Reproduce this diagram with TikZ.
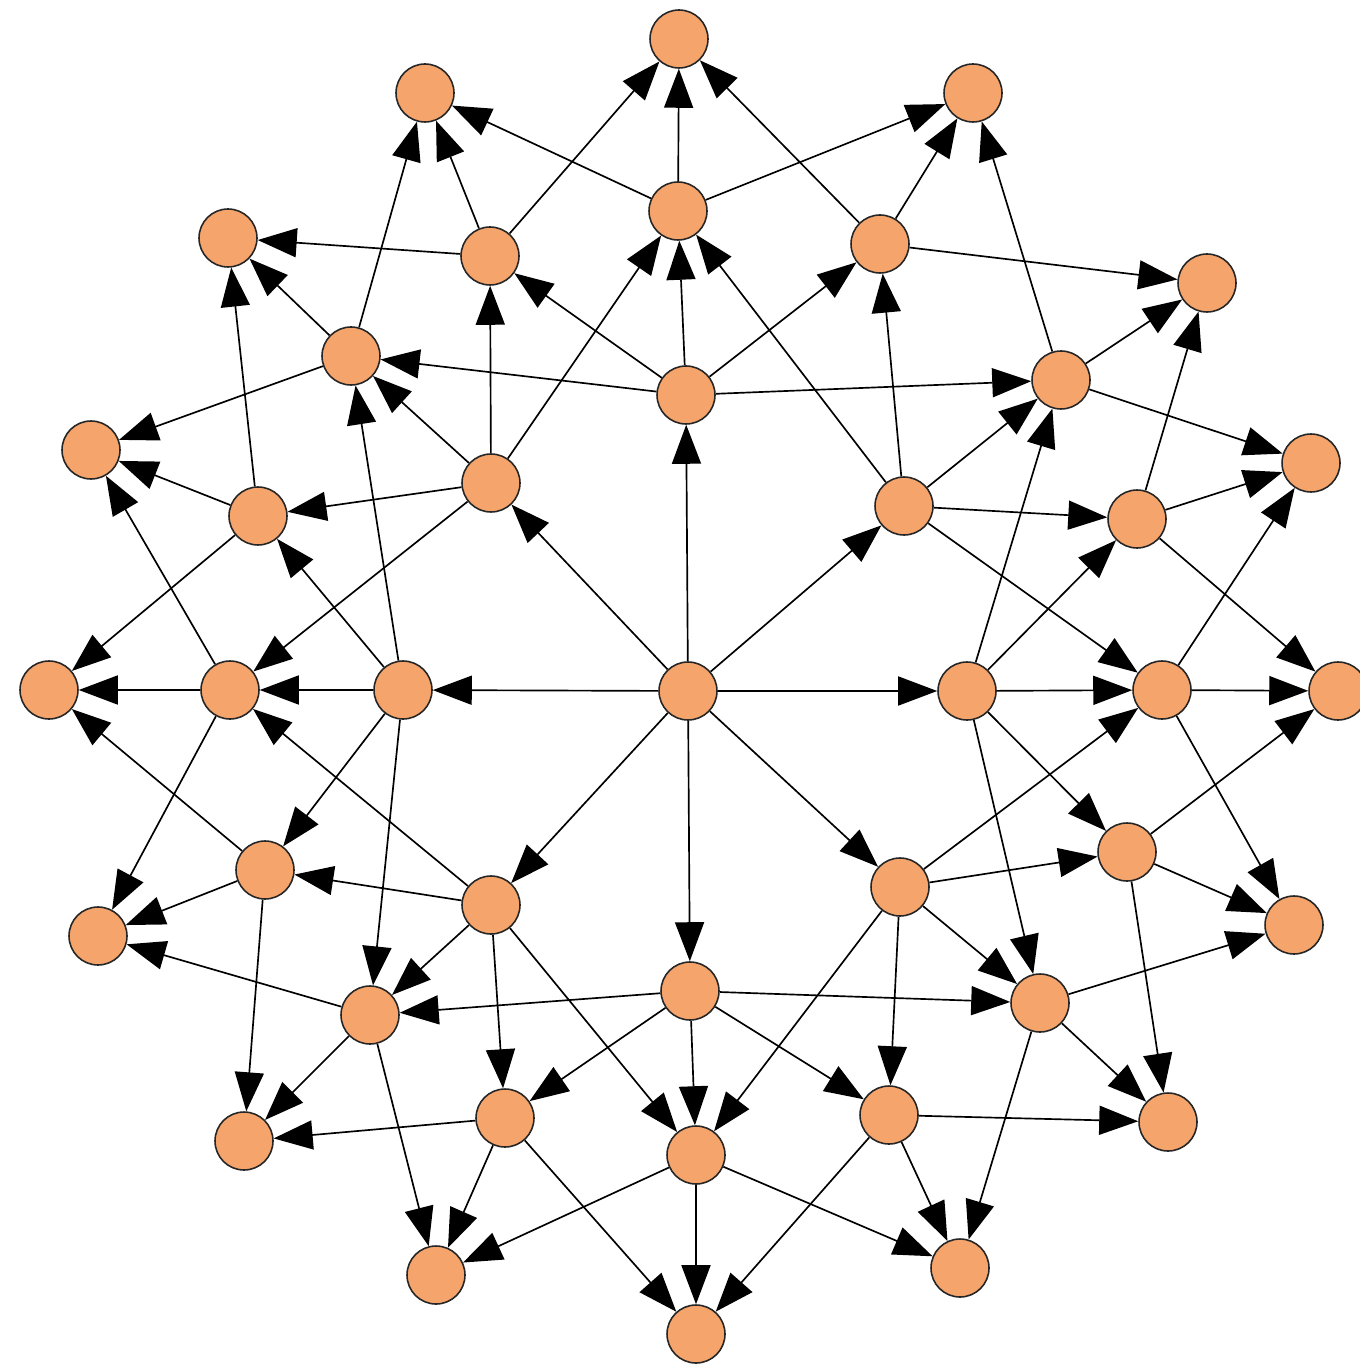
\documentclass[tikz,border=0pt]{standalone}
\usetikzlibrary{arrows.meta,backgrounds}
\definecolor{nodefill}{RGB}{245,164,108}
\begin{document}
\begin{tikzpicture}[x=0.02cm,y=-0.02cm,
  vtx/.style={circle,draw=black!85,line width=0.9pt,fill=nodefill,minimum size=1.16cm,inner sep=0pt},
  arr/.style={line width=0.95pt,-{Triangle[length=0.78cm,width=0.58cm]}}]
\useasboundingbox (0,0) rectangle (1359,1364);
% centre
\node[vtx] (c) at (688,691) {};
% inner ring
\node[vtx] (a1) at (686,395) {};
\node[vtx] (a2) at (904,506) {};
\node[vtx] (a3) at (967,691) {};
\node[vtx] (a4) at (900,887) {};
\node[vtx] (a5) at (690,991) {};
\node[vtx] (a6) at (491,905) {};
\node[vtx] (a7) at (403,690) {};
\node[vtx] (a8) at (491,483) {};
% middle ring
\node[vtx] (b1) at (678,211) {};
\node[vtx] (b2) at (880,244) {};
\node[vtx] (b3) at (1061,380) {};
\node[vtx] (b4) at (1137,519) {};
\node[vtx] (b5) at (1162,690) {};
\node[vtx] (b6) at (1127,852) {};
\node[vtx] (b7) at (1040,1003) {};
\node[vtx] (b8) at (889,1115) {};
\node[vtx] (b9) at (696,1155) {};
\node[vtx] (b10) at (505,1118) {};
\node[vtx] (b11) at (370,1015) {};
\node[vtx] (b12) at (265,870) {};
\node[vtx] (b13) at (230,690) {};
\node[vtx] (b14) at (258,516) {};
\node[vtx] (b15) at (351,356) {};
\node[vtx] (b16) at (490,256) {};
% outer ring
\node[vtx] (o1) at (679,39) {};
\node[vtx] (o2) at (973,93) {};
\node[vtx] (o3) at (1207,283) {};
\node[vtx] (o4) at (1311,463) {};
\node[vtx] (o5) at (1338,691) {};
\node[vtx] (o6) at (1294,925) {};
\node[vtx] (o7) at (1168,1122) {};
\node[vtx] (o8) at (960,1268) {};
\node[vtx] (o9) at (696,1334) {};
\node[vtx] (o10) at (436,1275) {};
\node[vtx] (o11) at (244,1141) {};
\node[vtx] (o12) at (98,936) {};
\node[vtx] (o13) at (49,690) {};
\node[vtx] (o14) at (91,450) {};
\node[vtx] (o15) at (228,238) {};
\node[vtx] (o16) at (425,93) {};
\begin{scope}[on background layer]
\fill[white] (0,0) rectangle (1359,1364);
\foreach \k in {1,...,8} {
  \draw[arr] (c) -- (a\k);
  \foreach \d in {-2,...,2} {
    \pgfmathtruncatemacro\t{mod(2*\k-1+\d+15,16)+1}
    \draw[arr] (a\k) -- (b\t);
  }
}
\foreach \k in {1,...,16} {
  \foreach \d in {-1,0,1} {
    \pgfmathtruncatemacro\t{mod(\k+\d+15,16)+1}
    \draw[arr] (b\k) -- (o\t);
  }
}
\end{scope}
\end{tikzpicture}
\end{document}
